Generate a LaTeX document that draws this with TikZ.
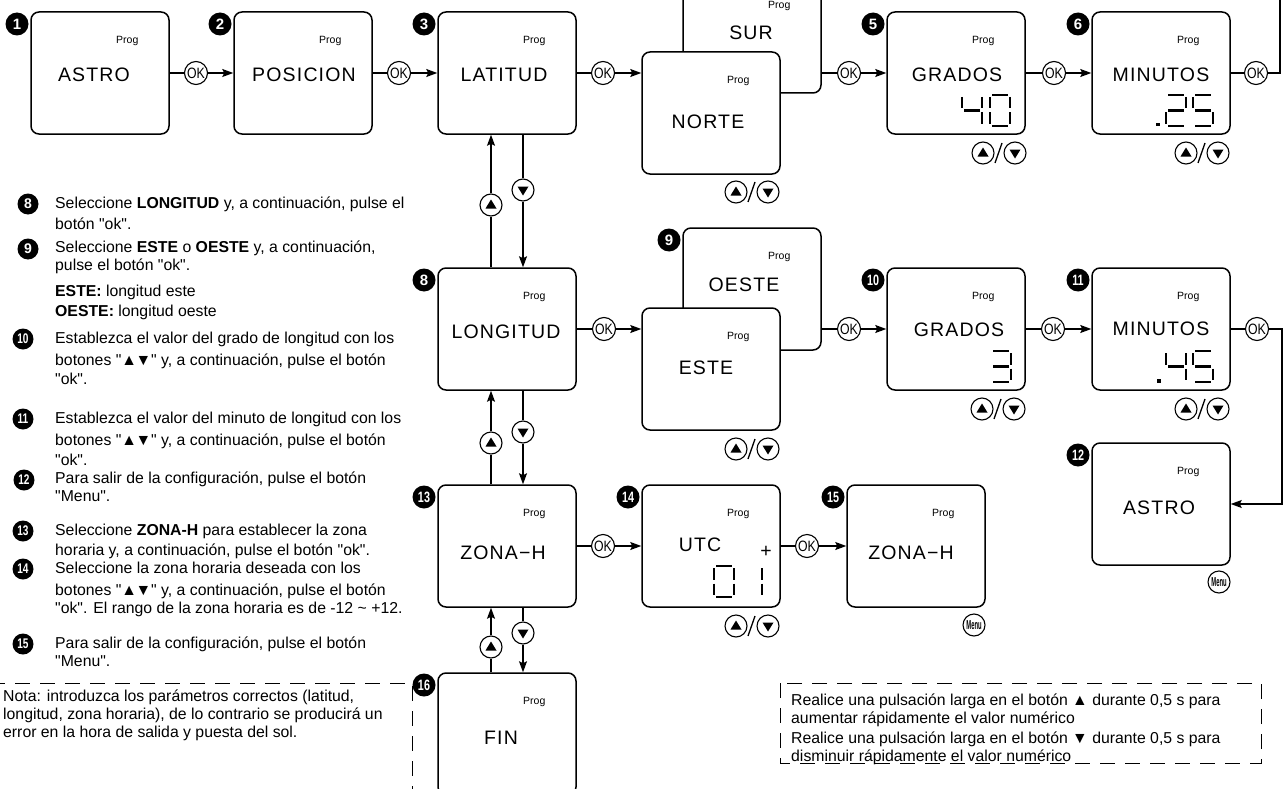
\documentclass[tikz,border=0pt]{standalone}
\usepackage{fontspec}
\setmainfont{Liberation Sans}[Ligatures=TeXOff]
\newfontfamily\lcdfont[LetterSpace=6]{Liberation Sans}
\usetikzlibrary{arrows.meta,calc}
\def\dw{20}\def\dh{31}
\newcommand\lsegA[2]{\draw[seg] ({#1+2},{#2}) -- ({#1+\dw-2},{#2});}
\newcommand\lsegB[2]{\draw[seg] ({#1+\dw},{#2+2}) -- ({#1+\dw},{#2+\dh/2-2});}
\newcommand\lsegC[2]{\draw[seg] ({#1+\dw},{#2+\dh/2+2}) -- ({#1+\dw},{#2+\dh-2});}
\newcommand\lsegD[2]{\draw[seg] ({#1+2},{#2+\dh}) -- ({#1+\dw-2},{#2+\dh});}
\newcommand\lsegE[2]{\draw[seg] ({#1},{#2+\dh/2+2}) -- ({#1},{#2+\dh-2});}
\newcommand\lsegF[2]{\draw[seg] ({#1},{#2+2}) -- ({#1},{#2+\dh/2-2});}
\newcommand\lsegG[2]{\draw[seg] ({#1+2},{#2+\dh/2}) -- ({#1+\dw-2},{#2+\dh/2});}
\newcommand\lcddigit[3]{\foreach \s in {#3}{\csname lseg\s\endcsname{#1}{#2}}}
\newcommand\lcddot[2]{\fill ({#1-1.6},{#2+\dh-3}) rectangle ({#1+1.6},{#2+\dh+0.5});}
\newcommand\twod[1]{\scalebox{0.72}[1]{#1}}
\newcommand\updn{▲\kern-1.5pt▼}
\tikzset{
 box/.style={draw, line width=1.5pt, rounded corners=8pt, minimum width=138pt, minimum height=122pt, inner sep=0pt, fill=white},
 lbl/.style={font=\lcdfont\fontsize{19.5}{20}\selectfont, inner sep=0pt},
 prog/.style={font=\fontsize{10.5}{11}\selectfont, inner sep=0pt},
 okbtn/.style={circle, draw, line width=1.1pt, minimum size=23pt, inner sep=0pt, font=\fontsize{15}{15}\selectfont, fill=white},
 upbtn/.style={circle, draw, line width=1.1pt, minimum size=22pt, inner sep=0pt, path picture={\fill ($(path picture bounding box.center)+(-5.5,3.5)$) -- ++(11,0) -- ++(-5.5,-9) -- cycle;}},
 dnbtn/.style={circle, draw, line width=1.1pt, minimum size=22pt, inner sep=0pt, path picture={\fill ($(path picture bounding box.center)+(-5.5,-3.5)$) -- ++(11,0) -- ++(-5.5,9) -- cycle;}},
 menubtn/.style={circle, draw, line width=1.1pt, minimum size=22pt, inner sep=0pt, font=\bfseries\fontsize{13}{13}\selectfont},
 badge/.style={circle, fill=black, text=white, minimum size=23pt, inner sep=0pt, font=\bfseries\fontsize{15}{15}\selectfont},
 sbadge/.style={badge, minimum size=21pt, font=\bfseries\fontsize{14}{14}\selectfont},
 thickline/.style={line width=2.6pt},
 arrowline/.style={line width=1.2pt, -{Stealth[length=11pt,width=8pt,inset=2pt]}},
 dashbox/.style={line width=1pt, dash pattern=on 15pt off 10pt},
 txt/.style={anchor=base west, inner sep=0pt, font=\fontsize{15.8}{18}\selectfont},
 seg/.style={line width=2.7pt}
}
\newcommand\updown[3]{%
 \node[upbtn] (#1u) at (#2,#3) {};
 \node[dnbtn] (#1d) at ({#2+32},#3) {};
 \draw[line width=1.3pt] ({#2+12},{#3+10}) -- ({#2+19},{#3-10});}
\begin{document}
\begin{tikzpicture}[x=1pt,y=-1pt]
\useasboundingbox (0,0) rectangle (1284,789);
\clip (0,0) rectangle (1284,789);
\fill[white] (0,0) rectangle (1284,789);
% ---------- boxes ----------
\node[box] (b1) at (100,73) {};
\node[box] (b2) at (303,73) {};
\node[box] (b3) at (507,73) {};
\node[box] (sur) at (752,32) {};
\node[box] (norte) at (711,113) {};
\node[box] (b5) at (956,73) {};
\node[box] (b6) at (1161,73) {};
\node[box] (b8) at (507,329) {};
\node[box] (oeste) at (752,289) {};
\node[box] (este) at (711,369) {};
\node[box] (b10) at (956,329) {};
\node[box] (b11) at (1161,329) {};
\node[box] (b12) at (1161,504) {};
\node[box] (b13) at (507,546) {};
\node[box] (b14) at (711,546) {};
\node[box] (b15) at (916,546) {};
\node[box] (b16) at (507,734) {};
% ---------- Prog labels ----------
\foreach \b in {b1,b2,b3,norte,b5,b6,b8,oeste,este,b10,b11,b12,b13,b14,b15,b16}
  \node[prog] at ($(\b.north west)+(97,30)$) {Prog};
\node[prog] at ($(sur.north west)+(97,36)$) {Prog};
% ---------- box labels ----------
\node[lbl] (t1) at (94,75) {ASTRO};
\node[lbl] (t2) at (304,75) {POSICION};
\node[lbl] (t3) at (504,75) {LATITUD};
\node[lbl] (tsur) at (751,33) {SUR};
\node[lbl] (tnorte) at (708,122) {NORTE};
\node[lbl] (t5) at (957,75) {GRADOS};
\node[lbl] (t6) at (1161,75) {MINUTOS};
\node[lbl] (t8) at (506,332) {LONGITUD};
\node[lbl] (toeste) at (744,285) {OESTE};
\node[lbl] (teste) at (706,368) {ESTE};
\node[lbl] (t10) at (959,330) {GRADOS};
\node[lbl] (t11) at (1161,329) {MINUTOS};
\node[lbl] (t12) at (1159,508) {ASTRO};
\node[lbl] (t13) at (503,553) {ZONA−H};
\node[lbl] (t14) at (700,545) {UTC};
\node[lbl] (tplus) at (766,552) {+};
\node[lbl] (t15) at (911,553) {ZONA−H};
\node[lbl] (t16) at (501,738) {FIN};
% ---------- LCD digits ----------
\lcddigit{962}{95}{F,G,B,C}
\lcddigit{990}{95}{A,B,C,D,E,F}
\lcddot{1158}{95}
\lcddigit{1166}{95}{A,B,G,E,D}
\lcddigit{1193}{95}{A,F,G,C,D}
\lcddigit{991}{351}{A,B,G,C,D}
\lcddot{1159}{351}
\lcddigit{1166}{351}{F,G,B,C}
\lcddigit{1193}{351}{A,F,G,C,D}
\lcddigit{714}{566}{A,B,C,D,E,F}
\lcddigit{742}{566}{B,C}
% ---------- badges ----------
\node[badge] (n1) at (17,24) {1};
\node[badge] (n2) at (220,24) {2};
\node[badge] (n3) at (424,24) {3};
\node[badge] (n5) at (873,24) {5};
\node[badge] (n6) at (1078,24) {6};
\node[badge] (n8) at (424,280) {8};
\node[badge] (n9) at (669,240) {9};
\node[badge] (n10) at (873,280) {\twod{10}};
\node[badge] (n11) at (1078,280) {\twod{11}};
\node[badge] (n12) at (1078,455) {\twod{12}};
\node[badge] (n13) at (424,497) {\twod{13}};
\node[badge] (n14) at (628,497) {\twod{14}};
\node[badge] (n15) at (833,497) {\twod{15}};
\node[badge] (n16) at (424,685) {\twod{16}};
% ---------- OK buttons & horizontal flow ----------
\node[okbtn] (ok1) at (196,73) {\scalebox{0.82}[1]{OK}};
\node[okbtn] (ok2) at (399,73) {\scalebox{0.82}[1]{OK}};
\node[okbtn] (ok3) at (603,73) {\scalebox{0.82}[1]{OK}};
\node[okbtn] (ok4) at (849,73) {\scalebox{0.82}[1]{OK}};
\node[okbtn] (ok5) at (1054,73) {\scalebox{0.82}[1]{OK}};
\node[okbtn] (ok6) at (1256,73) {\scalebox{0.82}[1]{OK}};
\node[okbtn] (ok8) at (604,329) {\scalebox{0.82}[1]{OK}};
\node[okbtn] (ok9) at (849,329) {\scalebox{0.82}[1]{OK}};
\node[okbtn] (ok10) at (1053,329) {\scalebox{0.82}[1]{OK}};
\node[okbtn] (ok11) at (1257,329) {\scalebox{0.82}[1]{OK}};
\node[okbtn] (ok13) at (603,546) {\scalebox{0.82}[1]{OK}};
\node[okbtn] (ok14) at (807,546) {\scalebox{0.82}[1]{OK}};
\draw[thickline] (b1.east) -- (ok1.west);  \draw[arrowline] (ok1.east) -- (b2.west);
\draw[thickline] (b2.east) -- (ok2.west);  \draw[arrowline] (ok2.east) -- (b3.west);
\draw[thickline] (b3.east) -- (ok3.west);  \draw[arrowline] (ok3.east) -- (norte.west |- ok3);
\draw[thickline] (sur.east |- ok4) -- (ok4.west); \draw[arrowline] (ok4.east) -- (b5.west);
\draw[thickline] (b5.east) -- (ok5.west);  \draw[arrowline] (ok5.east) -- (b6.west);
\draw[thickline] (b6.east) -- (ok6.west);
\coordinate (r6) at (1280,73); \coordinate (r6t) at (1280,-10);
\draw[thickline] (ok6.east) -- (r6) -- (r6t);
\draw[thickline] (b8.east) -- (ok8.west);  \draw[arrowline] (ok8.east) -- (este.west |- ok8);
\draw[thickline] (oeste.east |- ok9) -- (ok9.west); \draw[arrowline] (ok9.east) -- (b10.west);
\draw[thickline] (b10.east) -- (ok10.west); \draw[arrowline] (ok10.east) -- (b11.west);
\draw[thickline] (b11.east) -- (ok11.west);
\coordinate (r11a) at (1282,329); \coordinate (r11b) at (1282,504); \coordinate (r11c) at (1252,504);
\draw[thickline] (ok11.east) -- (r11a) -- (r11b) -- (r11c);
\draw[arrowline] (r11c) -- (b12.east);
\draw[thickline] (b13.east) -- (ok13.west); \draw[arrowline] (ok13.east) -- (b14.west);
\draw[thickline] (b14.east) -- (ok14.west); \draw[arrowline] (ok14.east) -- (b15.west);
% ---------- vertical flow ----------
\node[upbtn] (up1) at (491,205) {}; \node[dnbtn] (dn1) at (523,190) {};
\node[upbtn] (up2) at (491,443) {}; \node[dnbtn] (dn2) at (523,432) {};
\node[upbtn] (up3) at (491,647) {}; \node[dnbtn] (dn3) at (523,633) {};
\draw[thickline] (b8.north -| up1) -- (up1.south); \draw[arrowline] (up1.north) -- (b3.south -| up1);
\draw[thickline] (b3.south -| dn1) -- (dn1.north); \draw[arrowline] (dn1.south) -- (b8.north -| dn1);
\draw[thickline] (b13.north -| up2) -- (up2.south); \draw[arrowline] (up2.north) -- (b8.south -| up2);
\draw[thickline] (b8.south -| dn2) -- (dn2.north); \draw[arrowline] (dn2.south) -- (b13.north -| dn2);
\draw[thickline] (b16.north -| up3) -- (up3.south); \draw[arrowline] (up3.north) -- (b13.south -| up3);
\draw[thickline] (b13.south -| dn3) -- (dn3.north); \draw[arrowline] (dn3.south) -- (b16.north -| dn3);
% ---------- up/down pairs & menu ----------
\updown{pn}{736}{192}
\updown{p5}{983}{153}
\updown{p6}{1186}{153}
\updown{pe}{736}{449}
\updown{p10}{982}{409}
\updown{p11}{1186}{409}
\updown{p14}{736}{626}
\node[menubtn] (m12) at (1219,582) {\scalebox{0.45}[1]{Menu}};
\node[menubtn] (m15) at (974,625) {\scalebox{0.45}[1]{Menu}};
% ---------- left instructions ----------
\node[sbadge] (i8) at (28,204) {8};
\node[txt] at (55,208.5) {Seleccione \textbf{LONGITUD} y, a continuación, pulse el};
\node[txt] at (55,229.5) {botón "ok".};
\node[sbadge] (i9) at (28,249) {9};
\node[txt] at (55,252.5) {Seleccione \textbf{ESTE} o \textbf{OESTE} y, a continuación,};
\node[txt] at (55,270.5) {pulse el botón "ok".};
\node[txt] at (55,296.5) {\textbf{ESTE:} longitud este};
\node[txt] at (55,316.5) {\textbf{OESTE:} longitud oeste};
\node[sbadge] (i10) at (23,339) {\twod{10}};
\node[txt] at (55,343.5) {Establezca el valor del grado de longitud con los};
\node[txt] at (55,365.5) {botones "\updn" y, a continuación, pulse el botón};
\node[txt] at (55,384.5) {"ok".};
\node[sbadge] (i11) at (23,419) {\twod{11}};
\node[txt] at (55,423.5) {Establezca el valor del minuto de longitud con los};
\node[txt] at (55,445.5) {botones "\updn" y, a continuación, pulse el botón};
\node[txt] at (55,465.5) {"ok".};
\node[sbadge] (i12) at (24,480) {\twod{12}};
\node[txt] at (55,483.5) {Para salir de la configuración, pulse el botón};
\node[txt] at (55,501.5) {"Menu".};
\node[sbadge] (i13) at (23,531) {\twod{13}};
\node[txt] at (55,535.5) {Seleccione \textbf{ZONA-H} para establecer la zona};
\node[txt] at (55,555.5) {horaria y, a continuación, pulse el botón "ok".};
\node[sbadge] (i14) at (23,569) {\twod{14}};
\node[txt] at (55,573.5) {Seleccione la zona horaria deseada con los};
\node[txt] at (55,595.5) {botones "\updn" y, a continuación, pulse el botón};
\node[txt] at (55,613.5) {"ok". El rango de la zona horaria es de -12 \textasciitilde{} +12.};
\node[sbadge] (i15) at (23,644) {\twod{15}};
\node[txt] at (55,648.5) {Para salir de la configuración, pulse el botón};
\node[txt] at (55,666.5) {"Menu".};
% ---------- notes ----------
\coordinate (nl1) at (-10,683); \coordinate (nl2) at (412,683); \coordinate (nl3) at (412,800);
\draw[dashbox] (nl1) -- (nl2) -- (nl3);
\node[txt] at (3,701.5) {Nota: introduzca los parámetros correctos (latitud,};
\node[txt] at (3,719.5) {longitud, zona horaria), de lo contrario se producirá un};
\node[txt] at (3,737.5) {error en la hora de salida y puesta del sol.};
\coordinate (nr1) at (780,683); \coordinate (nr2) at (1261,763);
\draw[dashbox] (nr1) rectangle (nr2);
\node[txt] at (791,705.5) {Realice una pulsación larga en el botón ▲ durante 0,5 s para};
\node[txt] at (791,723.5) {aumentar rápidamente el valor numérico};
\node[txt] at (791,743.5) {Realice una pulsación larga en el botón ▼ durante 0,5 s para};
\node[txt] at (791,761.5) {disminuir rápidamente el valor numérico};
\end{tikzpicture}
\end{document}
